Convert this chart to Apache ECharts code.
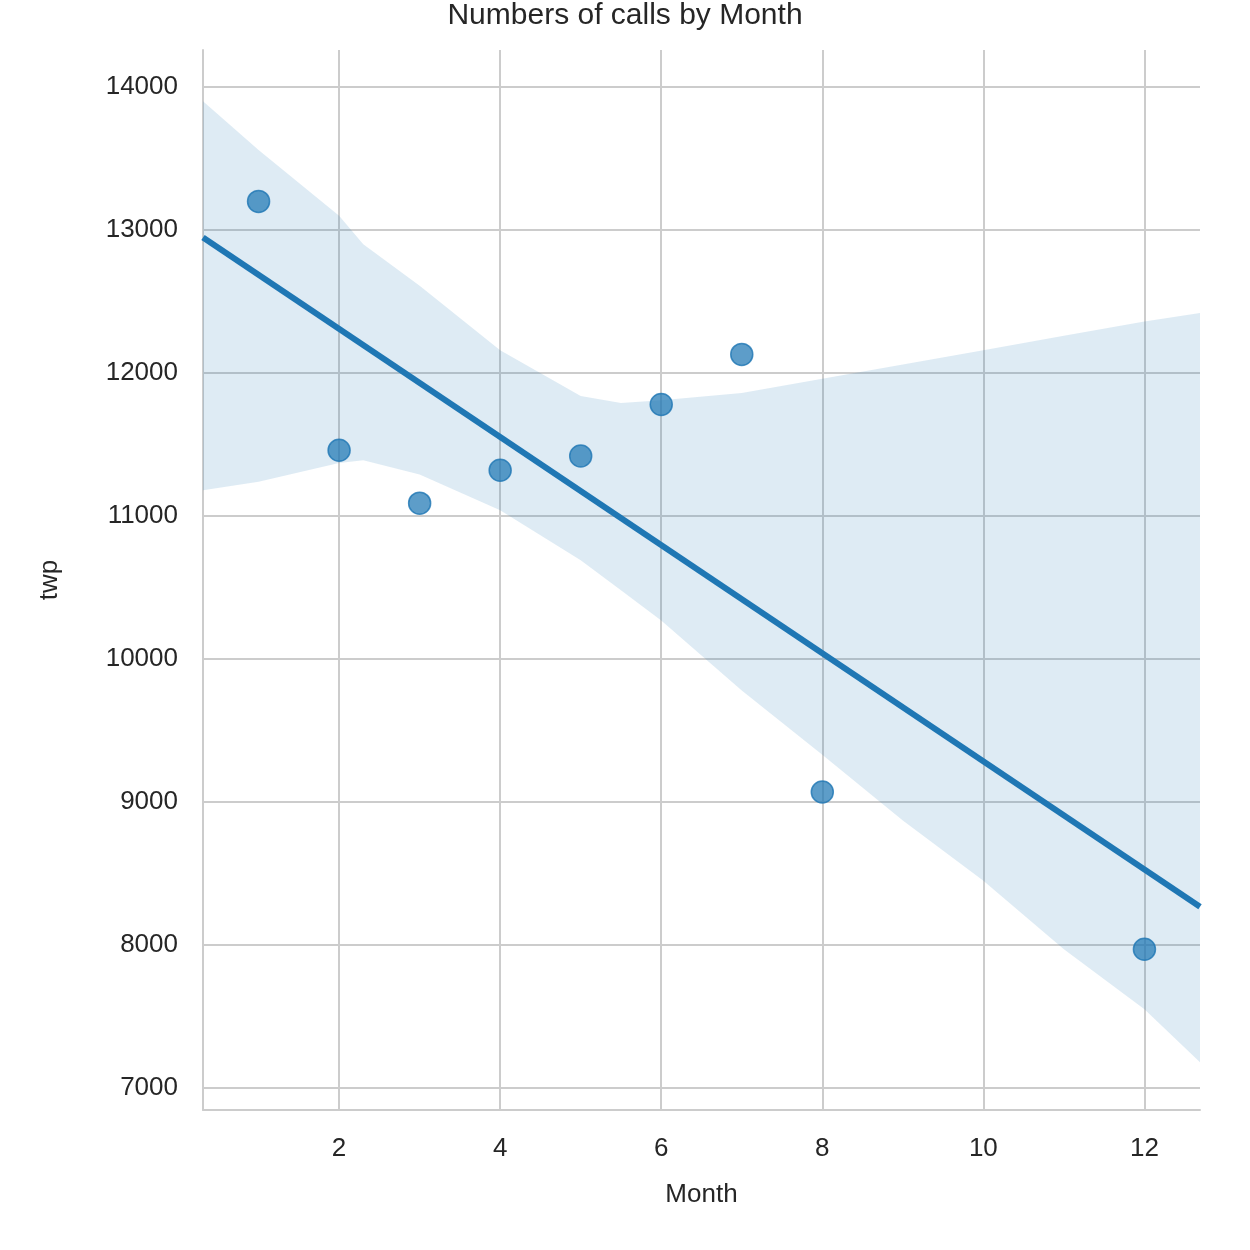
<!DOCTYPE html>
<html><head><meta charset="utf-8">
<script src="https://cdn.jsdelivr.net/npm/echarts@6/dist/echarts.min.js"></script>
<style>body{margin:0}#main{width:1250px;height:1250px}</style>
</head><body><div id="main"></div>
<script>
var months = [1, 2, 3, 4, 5, 6, 7, 8, 12];
var calls = [13200, 11460, 11090, 11320, 11420, 11780, 12130, 9070, 7970];
var bandX = [0.31, 1, 2, 2.3, 3, 4, 5, 5.5, 6, 7, 8, 9, 10, 11, 12, 12.69];
var bandUpper = [13900, 13560, 13100, 12900, 12610, 12160, 11840, 11790, 11810, 11860, 11960, 12060, 12160, 12260, 12360, 12420];
var bandLower = [11180, 11240, 11370, 11390, 11290, 11040, 10690, 10480, 10270, 9780, 9330, 8870, 8450, 7970, 7550, 7180];
var xTicks = [2, 4, 6, 8, 10, 12];
var yTicks = [7000, 8000, 9000, 10000, 11000, 12000, 13000, 14000];
var xMin = 0.31, xMax = 12.69;

// least squares fit
var n = months.length, mx = 0, my = 0;
months.forEach(function (v, i) { mx += v / n; my += calls[i] / n; });
var sxy = 0, sxx = 0;
months.forEach(function (v, i) { sxy += (v - mx) * (calls[i] - my); sxx += (v - mx) * (v - mx); });
var slope = sxy / sxx, icpt = my - slope * mx;
var fit = [[xMin, icpt + slope * xMin], [xMax, icpt + slope * xMax]];

var bandPts = bandX.map(function (x, i) { return [x, bandUpper[i]]; })
  .concat(bandX.slice().reverse().map(function (x, i) { return [x, bandLower[bandX.length - 1 - i]]; }));

var txt = '#262626', gridC = '#cccccc', font = 'Arial, "Liberation Sans", sans-serif';
var chart = echarts.init(document.getElementById('main'));
chart.setOption({
  backgroundColor: '#fff',
  title: { text: 'Numbers of calls by Month', left: 'center', top: -4, textStyle: { fontSize: 30, fontWeight: 'normal', color: txt, fontFamily: font } },
  grid: { left: 203, right: 50, top: 50, bottom: 140 },
  xAxis: {
    type: 'value', min: xMin, max: xMax, name: 'Month', nameLocation: 'middle', nameGap: 72,
    nameTextStyle: { fontSize: 26, color: txt, fontFamily: font },
    axisLine: { lineStyle: { color: gridC, width: 2 } },
    axisTick: { show: false, customValues: xTicks },
    axisLabel: { customValues: xTicks, fontSize: 26, color: txt, fontFamily: font, margin: 26, formatter: function (v) { return String(v); } },
    splitLine: { show: true, lineStyle: { color: gridC, width: 2 } }
  },
  yAxis: {
    type: 'value', min: 6846, max: 14259, name: 'twp', nameLocation: 'middle', nameGap: 140,
    nameTextStyle: { fontSize: 26, color: txt, fontFamily: font },
    axisLine: { show: true, lineStyle: { color: gridC, width: 2 } },
    axisTick: { show: false, customValues: yTicks },
    axisLabel: { customValues: yTicks, fontSize: 26, color: txt, fontFamily: font, margin: 25, formatter: function (v) { return String(v); } },
    splitLine: { show: true, lineStyle: { color: gridC, width: 2 } }
  },
  series: [
    {
      type: 'custom', data: [0], silent: true, z: 1,
      renderItem: function (params, api) {
        return { type: 'polygon', shape: { points: bandPts.map(function (p) { return api.coord(p); }) },
          style: { fill: 'rgba(31,119,180,0.15)' } };
      }
    },
    { type: 'line', data: fit, symbol: 'none', lineStyle: { color: '#1f77b4', width: 6 }, z: 3 },
    { type: 'scatter', data: months.map(function (m, i) { return [m, calls[i]]; }), symbolSize: 22,
      itemStyle: { color: 'rgba(31,119,180,0.9)', borderColor: '#1f77b4', borderWidth: 1.5 }, z: 4 }
  ]
});
</script></body></html>
